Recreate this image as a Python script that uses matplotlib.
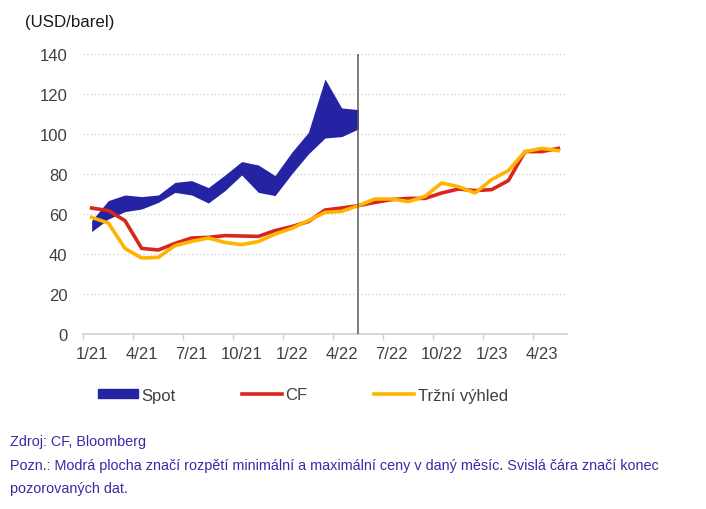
import numpy as np
import matplotlib
matplotlib.use('Agg')
import matplotlib.pyplot as plt
from matplotlib.patches import Patch
from matplotlib.lines import Line2D

plt.rcParams['font.family'] = ['Liberation Sans', 'DejaVu Sans']

# mesice 1/21 .. 5/23
months = ['1/21', '2/21', '3/21', '4/21', '5/21', '6/21', '7/21', '8/21', '9/21',
          '10/21', '11/21', '12/21', '1/22', '2/22', '3/22', '4/22', '5/22', '6/22',
          '7/22', '8/22', '9/22', '10/22', '11/22', '12/22', '1/23', '2/23', '3/23',
          '4/23', '5/23']
tick_labels = ['1/21', '4/21', '7/21', '10/21', '1/22', '4/22', '7/22', '10/22', '1/23', '4/23']

# spot - rozpeti min / max (do 5/22)
spot_max = [56.7, 66.7, 69.5, 68.7, 69.5, 75.8, 76.7, 73.2, 79.5, 86.2, 84.5, 79.2,
            90.8, 100.8, 127.5, 113.0, 112.2]
spot_min = [51.2, 57.5, 61.2, 62.5, 65.8, 70.8, 69.5, 65.5, 71.7, 79.5, 70.8, 69.2,
            80.0, 90.0, 98.0, 98.7, 102.5]

cf = [63.0, 61.7, 56.7, 42.8, 42.0, 45.3, 48.0, 48.3, 49.2, 49.0, 48.8, 51.7, 53.7,
      56.2, 62.0, 63.0, 64.2, 65.8, 67.2, 67.8, 67.8, 70.5, 72.5, 71.7, 72.2, 76.7,
      91.2, 91.2, 92.8]
trh = [58.3, 55.5, 42.8, 38.0, 38.3, 44.2, 46.3, 48.0, 45.8, 44.7, 46.2, 50.0, 52.8,
       56.7, 60.8, 61.3, 64.2, 67.5, 67.5, 66.2, 68.8, 75.5, 73.7, 70.5, 77.2, 81.7,
       91.2, 92.8, 91.7]

c_spot = '#2323a3'
c_cf = '#d9261c'
c_trh = '#ffb400'
fs = 12

fig = plt.figure(figsize=(7.06, 5.10), dpi=100)
ax = fig.add_axes([0.118, 0.3431, 0.6847, 0.5491])

x = np.arange(len(months))
xs = x[:len(spot_max)]
ax.fill_between(xs, spot_min, spot_max, color=c_spot, lw=0, zorder=2)
ax.plot(x, cf, color=c_cf, lw=2.6, zorder=3, solid_joinstyle='round')
ax.plot(x, trh, color=c_trh, lw=2.6, zorder=4, solid_joinstyle='round')

# konec pozorovanych dat
ax.axvline(len(spot_max) - 1, color='#595959', lw=1.1, zorder=5)

ax.set_xlim(-0.5, len(months) - 0.5)
ax.set_ylim(0, 140)
ax.set_yticks(np.arange(0, 141, 20))
ax.set_xticks([months.index(t) for t in tick_labels])
ax.set_xticklabels(tick_labels)
ax.set_xticks(np.arange(-0.5, len(months) - 1, 3), minor=True)

ax.tick_params(axis='y', length=0, pad=11.5, labelsize=fs, labelcolor='#404040')
ax.tick_params(axis='x', which='major', length=0, pad=8.5, labelsize=fs, labelcolor='#404040')
ax.tick_params(axis='x', which='minor', length=4, width=1, color='#d0d0d0')

for s in ['top', 'right', 'left']:
    ax.spines[s].set_visible(False)
ax.spines['bottom'].set_color('#d0d0d0')
ax.spines['bottom'].set_linewidth(1.2)

for v in range(20, 141, 20):
    ax.axhline(v, color='#cfcfcf', lw=0.9, ls=(0, (1, 2)), zorder=0)

fig.text(25 / 706, 1 - 22 / 510, '(USD/barel)', fontsize=12.2, color='#1a1a1a',
         ha='left', va='center')

handles = [Patch(color=c_spot), Line2D([], [], color=c_cf, lw=2.6),
           Line2D([], [], color=c_trh, lw=2.6)]
fig.legend(handles, ['Spot', 'CF', 'Tržní výhled'], loc='center left',
           bbox_to_anchor=(98 / 706, 1 - 396 / 510), ncol=3, frameon=False,
           fontsize=fs, handlelength=2.4, handleheight=0.5, handletextpad=0.2,
           columnspacing=4.0, borderpad=0, borderaxespad=0,
           labelcolor='#404040')

note_c = '#3a2aa8'
nfs = 10.4
fig.text(10 / 706, 1 - 442 / 510, 'Zdroj: CF, Bloomberg', fontsize=nfs, color=note_c,
         va='center', ha='left')
fig.text(10 / 706, 1 - 466 / 510,
         'Pozn.: Modrá plocha značí rozpětí minimální a maximální ceny v daný měsíc. '
         'Svislá čára značí konec', fontsize=nfs, color=note_c, va='center', ha='left')
fig.text(10 / 706, 1 - 489 / 510, 'pozorovaných dat.', fontsize=nfs, color=note_c,
         va='center', ha='left')

fig.savefig('out.png', dpi=100)
